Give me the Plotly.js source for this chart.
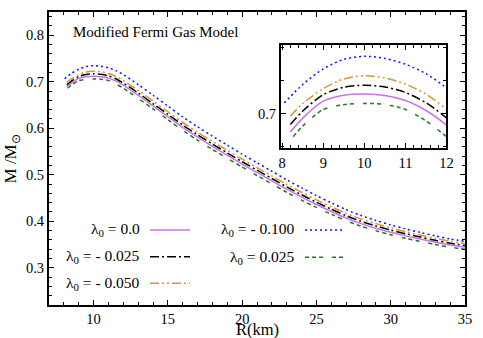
<!DOCTYPE html>
<html>
<head>
<meta charset="utf-8">
<script src="https://cdn.plot.ly/plotly-3.0.1.min.js"></script>
<style>html,body{margin:0;padding:0;background:#fff;}#chart{width:483px;height:338px;}</style>
</head>
<body>
<div id="chart"></div>
<script>
// Radius (km)
var R = [8.2, 8.5, 9, 9.5, 10, 10.5, 11, 11.5, 12, 13, 14, 15, 16, 17, 18, 19, 20, 21, 22, 23, 24, 25, 26, 27, 28, 29, 30, 31, 32, 33, 34, 35];
var R_blue = [8.05, 8.5, 9, 9.5, 10, 10.5, 11, 11.5, 12, 13, 14, 15, 16, 17, 18, 19, 20, 21, 22, 23, 24, 25, 26, 27, 28, 29, 30, 31, 32, 33, 34, 35];
var R_green = [8.27, 8.5, 9, 9.5, 10, 10.5, 11, 11.5, 12, 13, 14, 15, 16, 17, 18, 19, 20, 21, 22, 23, 24, 25, 26, 27, 28, 29, 30, 31, 32, 33, 34, 35];

// M / M_sun for each lambda_0
var M_l0_000 = [0.6888, 0.6972, 0.7074, 0.7110, 0.7117, 0.7108, 0.7078, 0.7018, 0.6930, 0.671, 0.648, 0.625, 0.602, 0.581, 0.561, 0.542, 0.523, 0.505, 0.487, 0.469, 0.452, 0.436, 0.421, 0.407, 0.395, 0.3852, 0.3764, 0.3686, 0.3618, 0.355, 0.3492, 0.3445];
var M_lm_025 = [0.6934, 0.7015, 0.7114, 0.7158, 0.7170, 0.7160, 0.7127, 0.7065, 0.6974, 0.676, 0.653, 0.630, 0.607, 0.586, 0.566, 0.547, 0.528, 0.510, 0.492, 0.474, 0.457, 0.441, 0.426, 0.412, 0.400, 0.390, 0.381, 0.373, 0.366, 0.359, 0.353, 0.348];
var M_lm_050 = [0.6984, 0.7060, 0.7150, 0.7208, 0.7227, 0.7215, 0.7177, 0.7117, 0.7026, 0.6815, 0.6585, 0.6355, 0.6125, 0.5915, 0.5715, 0.5525, 0.5335, 0.5155, 0.4975, 0.4795, 0.4625, 0.446, 0.431, 0.417, 0.405, 0.395, 0.386, 0.3775, 0.3705, 0.3633, 0.3572, 0.352];
var M_lm_100 = [0.7064, 0.7175, 0.7269, 0.7326, 0.7345, 0.7332, 0.7297, 0.7240, 0.7154, 0.694, 0.671, 0.6478, 0.6245, 0.6032, 0.583, 0.5637, 0.5444, 0.526, 0.5076, 0.4892, 0.4718, 0.4552, 0.4396, 0.425, 0.4124, 0.4018, 0.3922, 0.3836, 0.376, 0.3685, 0.362, 0.3568];
var M_lp_025 = [0.686, 0.6925, 0.7024, 0.7053, 0.7060, 0.7055, 0.7024, 0.6955, 0.6860, 0.6645, 0.6415, 0.6185, 0.5955, 0.5745, 0.5545, 0.5355, 0.5165, 0.4985, 0.4805, 0.4625, 0.4455, 0.4298, 0.415, 0.4013, 0.3895, 0.3798, 0.371, 0.3633, 0.3566, 0.35, 0.3443, 0.3397];

var labels = ['λ<sub>0</sub> = 0.0', 'λ<sub>0</sub> = - 0.025', 'λ<sub>0</sub> = - 0.050', 'λ<sub>0</sub> = - 0.100', 'λ<sub>0</sub> = 0.025'];

var styles = [
  {color: '#c873e8', dash: 'solid'},
  {color: '#000000', dash: '9px,3px,2px,3px'},
  {color: '#d09a30', dash: '9px,3px,2px,3px,2px,3px'},
  {color: '#1010ff', dash: '2px,3px'},
  {color: '#207a20', dash: '4px,3px,4px,3px,4px,9px'}
];
var xs = [R, R, R, R_blue, R_green];
var ys = [M_l0_000, M_lm_025, M_lm_050, M_lm_100, M_lp_025];

var traces = [];
for (var i = 0; i < ys.length; i++) {
  var ln = {color: styles[i].color, dash: styles[i].dash, width: 1.5, shape: 'spline', smoothing: 0.8};
  traces.push({x: xs[i], y: ys[i], type: 'scatter', mode: 'lines', line: ln, name: labels[i], showlegend: false, xaxis: 'x', yaxis: 'y', hoverinfo: 'skip'});
  traces.push({x: xs[i], y: ys[i], type: 'scatter', mode: 'lines', line: ln, name: labels[i], showlegend: false, xaxis: 'x2', yaxis: 'y2', hoverinfo: 'skip'});
}

var serif = '"Liberation Serif", serif';
var axBase = {
  showgrid: false, zeroline: false, showline: true, linecolor: '#000', linewidth: 2,
  mirror: 'ticks', ticks: 'inside', ticklen: 5, tickwidth: 1, tickcolor: '#000',
  tickfont: {family: serif, size: 14.5, color: '#000'}
};
function ax(extra) { var o = {}; for (var k in axBase) o[k] = axBase[k]; for (var k2 in extra) o[k2] = extra[k2]; return o; }

// custom legend (text left, sample right)
var legPos = [
  {tx: 0.2228, ty: 0.256, lx0: 0.2428, lx1: 0.3389},
  {tx: 0.2228, ty: 0.1648, lx0: 0.2428, lx1: 0.3389},
  {tx: 0.2228, ty: 0.0741, lx0: 0.2428, lx1: 0.3389},
  {tx: 0.5954, ty: 0.256, lx0: 0.6154, lx1: 0.7115},
  {tx: 0.5954, ty: 0.1628, lx0: 0.6154, lx1: 0.7115}
];
var annotations = [{
  text: 'Modified Fermi Gas Model', xref: 'paper', yref: 'paper', x: 0.257, y: 0.933,
  xanchor: 'center', yanchor: 'middle', showarrow: false, font: {family: serif, size: 15, color: '#000'}
}, {
  text: 'R(km)', xref: 'paper', yref: 'paper', x: 0.5, y: -0.0836, xanchor: 'center', yanchor: 'middle',
  showarrow: false, font: {family: serif, size: 16.5, color: '#000'}
}, {
  text: 'M /M<sub>⊙</sub>', xref: 'paper', yref: 'paper', x: -0.089, y: 0.5, xanchor: 'center', yanchor: 'middle',
  textangle: -90, showarrow: false, font: {family: serif, size: 17, color: '#000'}
}];
var shapes = [];
for (var j = 0; j < labels.length; j++) {
  var p = legPos[j];
  annotations.push({text: labels[j], xref: 'paper', yref: 'paper', x: p.tx, y: p.ty, xanchor: 'right', yanchor: 'middle',
    showarrow: false, font: {family: serif, size: 15.5, color: '#000'}});
  shapes.push({type: 'line', xref: 'paper', yref: 'paper', x0: p.lx0, x1: p.lx1, y0: p.ty, y1: p.ty,
    line: {color: styles[j].color, dash: styles[j].dash, width: 1.5}});
}

var layout = {
  width: 483, height: 338,
  margin: {l: 49, r: 18, t: 12, b: 33, pad: 0},
  paper_bgcolor: '#fff', plot_bgcolor: '#fff',
  showlegend: false,
  font: {family: serif, color: '#000'},
  xaxis: ax({range: [7, 35], tick0: 0, dtick: 5, minor: {dtick: 1, ticklen: 3, ticks: 'inside', tickcolor: '#000'}, automargin: false}),
  yaxis: ax({range: [0.22, 0.85], tick0: 0, dtick: 0.1, tickformat: '.1f', minor: {dtick: 0.02, ticklen: 3, ticks: 'inside', tickcolor: '#000'}, automargin: false}),
  xaxis2: ax({domain: [0.5577, 0.9555], anchor: 'y2', range: [7.97, 12], tick0: 0, dtick: 1,
    minor: {dtick: 0.2, ticklen: 3, ticks: 'inside', tickcolor: '#000'}}),
  yaxis2: ax({domain: [0.5348, 0.8857], anchor: 'x2', range: [0.679, 0.741], tick0: 0, dtick: 0.1, tickformat: '.1f',
    minor: {dtick: 0.02, ticklen: 3, ticks: 'inside', tickcolor: '#000'}}),
  annotations: annotations,
  shapes: shapes
};

Plotly.newPlot('chart', traces, layout, {staticPlot: true, displayModeBar: false});
</script>
</body>
</html>
